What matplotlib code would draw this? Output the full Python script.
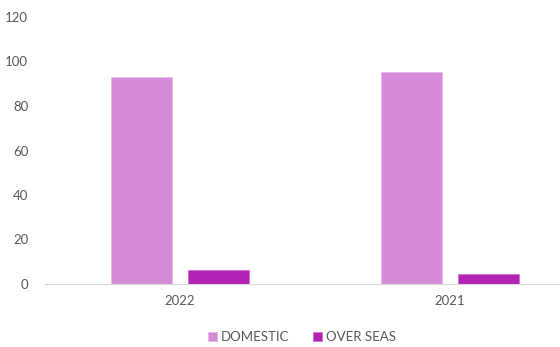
import numpy as np
import matplotlib.pyplot as plt

years = ["2022", "2021"]
domestic = [93, 95.5]
overseas = [6.3, 4.6]

plt.rcParams['font.family'] = ['Lato', 'DejaVu Sans']

fig = plt.figure(figsize=(5.6, 3.47), dpi=100)
ax = fig.add_axes([45/560, 63/347, 515/560, 267/347])

x = np.arange(len(years))
w = 0.226
ax.bar(x - 0.141, domestic, w, color="#D68BD9", edgecolor="#E8B8EA", linewidth=0.6, label="DOMESTIC")
ax.bar(x + 0.142, overseas, w, color="#B023B3", edgecolor="#D070D2", linewidth=0.6, label="OVER SEAS")

ax.set_xlim(-0.5, -0.5 + 515/270)
ax.set_ylim(0, 120)
ax.set_yticks(range(0, 121, 20))
ax.set_xticks(x)
ax.set_xticklabels(years)

for s in ["top", "right", "left"]:
    ax.spines[s].set_visible(False)
ax.spines["bottom"].set_color("#D9D9D9")
ax.tick_params(axis="both", length=0, colors="#595959", labelsize=9.5)
ax.tick_params(axis="y", pad=12)
ax.tick_params(axis="x", pad=8)

ax.legend(loc="center", bbox_to_anchor=(302/560, 10/347), bbox_transform=fig.transFigure,
          ncol=2, frameon=False, handlelength=0.7, handleheight=0.7, handletextpad=0.3,
          columnspacing=1.8, fontsize=9.5, labelcolor="#595959")

fig.savefig("out.png", dpi=100)
